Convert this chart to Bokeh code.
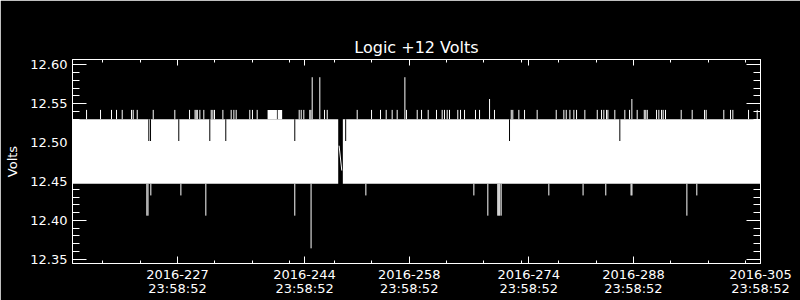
from bokeh.plotting import figure
from bokeh.models import FixedTicker, LinearAxis, PrintfTickFormatter, Range1d
from bokeh.embed import file_html
from bokeh.resources import INLINE

TITLE = "Logic +12 Volts"
Y_LABEL = "Volts"

# x axis: day of year 2016
x_ticks = [227, 244, 258, 274, 288, 305]
x_tick_labels = ["2016-227\n23:58:52", "2016-244\n23:58:52", "2016-258\n23:58:52",
                 "2016-274\n23:58:52", "2016-288\n23:58:52", "2016-305\n23:58:52"]
x_minor_ticks = [217, 222, 232, 237, 242, 248, 253, 263, 268, 273, 278, 283, 293, 298, 303]
y_ticks = [12.35, 12.40, 12.45, 12.50, 12.55, 12.60]
y_minor_ticks = [12.36, 12.37, 12.38, 12.39, 12.41, 12.42, 12.43, 12.44, 12.46, 12.47,
                 12.48, 12.49, 12.51, 12.52, 12.53, 12.54, 12.56, 12.57, 12.58, 12.59]

# dense oscillation envelope (min / max of the signal)
band_start = [212.95, 249.12]
band_end = [248.50, 305.0]
band_low = [12.447, 12.447]
band_high = [12.530, 12.530]

# stretches where the upper envelope sits higher
block_start = [239.05, 240.40]
block_end = [240.30, 241.00]
block_high = [12.542, 12.542]

# connecting line across the data gap
gap_days = [248.62, 248.98]
gap_volts = [12.496, 12.464]

# upward excursions
up_days = [214.83, 216.70, 218.17, 218.84, 219.60, 220.85, 221.07, 221.61, 223.75, 226.64,
           228.61, 229.35, 229.50, 229.65, 229.99, 230.52, 231.51, 231.73, 231.95, 233.07,
           234.18, 234.54, 234.85, 236.67, 237.03, 237.66, 243.28, 243.55, 243.90, 244.70,
           244.85, 245.02, 246.04, 246.67, 247.03, 251.04, 252.96, 254.16, 254.92, 255.72,
           256.39, 257.42, 257.64, 259.07, 259.65, 260.54, 261.65, 262.41, 262.72, 263.08,
           263.39, 264.50, 264.86, 265.40, 266.87, 267.41, 268.75, 269.41, 271.65, 271.86,
           272.67, 273.43, 275.12, 277.67, 278.69, 279.01, 279.50, 280.03, 280.39, 281.50,
           283.16, 283.73, 284.04, 284.40, 284.58, 285.51, 286.85, 287.48, 287.79, 288.50,
           289.45, 289.65, 289.85, 291.09, 291.40, 291.76, 291.98, 292.29, 294.39, 295.86,
           297.51, 297.73, 300.09, 300.99, 301.30, 303.40, 304.56]
up_volts = [
    12.542, 12.542, 12.542, 12.542, 12.542, 12.542, 12.542, 12.542, 12.542, 12.542,
    12.542, 12.542, 12.542, 12.542, 12.542, 12.542, 12.542, 12.542, 12.542, 12.542,
    12.542, 12.542, 12.542, 12.542, 12.542, 12.542, 12.542, 12.542, 12.542, 12.542,
    12.542, 12.584, 12.584, 12.542, 12.542, 12.542, 12.542, 12.542, 12.542, 12.542,
    12.542, 12.584, 12.542, 12.542, 12.542, 12.542, 12.542, 12.542, 12.542, 12.542,
    12.542, 12.542, 12.542, 12.542, 12.542, 12.542, 12.556, 12.542, 12.542, 12.542,
    12.542, 12.542, 12.542, 12.542, 12.542, 12.542, 12.542, 12.542, 12.542, 12.542,
    12.542, 12.542, 12.542, 12.542, 12.542, 12.542, 12.542, 12.542, 12.556, 12.542,
    12.542, 12.542, 12.542, 12.542, 12.542, 12.542, 12.542, 12.542, 12.542, 12.542,
    12.542, 12.542, 12.542, 12.542, 12.542, 12.542, 12.542]

# downward excursions
down_days = [222.90, 223.05, 223.43, 227.45, 230.79, 242.69, 244.87, 252.20, 266.65, 268.52,
             269.85, 269.98, 270.11, 270.30, 276.68, 281.26, 284.30, 287.68, 287.80, 295.15,
             296.48]
down_volts = [12.406, 12.406, 12.432, 12.432, 12.406, 12.406, 12.364, 12.432, 12.432, 12.406,
              12.406, 12.406, 12.406, 12.406, 12.432, 12.432, 12.432, 12.432, 12.432, 12.406,
              12.432]

# short moments where the upper envelope drops
dip_days = [223.16, 223.39, 227.17, 231.32, 233.46, 242.69, 249.50, 271.42, 286.18]
dip_volts = [12.502, 12.502, 12.502, 12.502, 12.502, 12.502, 12.502, 12.502, 12.502]

FONT = "DejaVu Sans"
WHITE = "white"

p = figure(width=800, height=300, output_backend="svg", toolbar_location=None,
           x_range=Range1d(212.95, 305.0), y_range=Range1d(12.3445, 12.6068),
           min_border_left=72, min_border_right=40, min_border_top=59, min_border_bottom=37,
           background_fill_color="black", border_fill_color="black",
           outline_line_color=WHITE, title=TITLE)
p.grid.visible = False

p.title.text_color = WHITE
p.title.text_font = FONT
p.title.text_font_size = "16px"
p.title.text_font_style = "normal"
p.title.align = "center"
p.title.standoff = 5

p.quad(left=band_start, right=band_end, bottom=band_low, top=band_high,
       fill_color=WHITE, line_color=None)
p.quad(left=block_start, right=block_end, bottom=[12.530] * len(block_start), top=block_high,
       fill_color=WHITE, line_color=None)
p.segment(x0=up_days, y0=[12.530] * len(up_days), x1=up_days, y1=up_volts,
          line_color=WHITE, line_width=1)
p.segment(x0=down_days, y0=[12.447] * len(down_days), x1=down_days, y1=down_volts,
          line_color=WHITE, line_width=1)
p.segment(x0=dip_days, y0=[12.530] * len(dip_days), x1=dip_days, y1=dip_volts,
          line_color="black", line_width=1)
p.line(gap_days, gap_volts, line_color=WHITE, line_width=1)

overrides = {t: lab for t, lab in zip(x_ticks, x_tick_labels)}


def style_axis(ax, major_in, minor_in):
    ax.axis_line_color = WHITE
    ax.major_tick_line_color = WHITE
    ax.minor_tick_line_color = WHITE
    ax.major_tick_in = major_in
    ax.major_tick_out = 0
    ax.minor_tick_in = minor_in
    ax.minor_tick_out = 0
    ax.major_label_text_color = WHITE
    ax.major_label_text_font = FONT
    ax.major_label_text_font_size = "13px"
    ax.axis_label_text_color = WHITE
    ax.axis_label_text_font = FONT
    ax.axis_label_text_font_size = "13px"
    ax.axis_label_text_font_style = "normal"


xb = p.xaxis[0]
xb.ticker = FixedTicker(ticks=x_ticks, minor_ticks=x_minor_ticks)
xb.major_label_overrides = overrides
xb.major_label_standoff = 3
style_axis(xb, 7, 3)
xb.major_label_text_line_height = 0.95

yl = p.yaxis[0]
yl.ticker = FixedTicker(ticks=y_ticks, minor_ticks=y_minor_ticks)
yl.formatter = PrintfTickFormatter(format="%.2f")
yl.axis_label = Y_LABEL
yl.major_label_standoff = 5
yl.axis_label_standoff = 7
style_axis(yl, 14, 7)

# mirrored tick-only axes (no labels)
xt = LinearAxis(ticker=FixedTicker(ticks=x_ticks, minor_ticks=x_minor_ticks))
style_axis(xt, 6, 3)
xt.major_label_text_color = None
xt.major_label_overrides = {t: "" for t in x_ticks}
p.add_layout(xt, "above")

yr = LinearAxis(ticker=FixedTicker(ticks=y_ticks, minor_ticks=y_minor_ticks))
style_axis(yr, 14, 7)
yr.major_label_text_color = None
yr.major_label_overrides = {t: "" for t in y_ticks}
p.add_layout(yr, "right")

open("out.html", "w").write(file_html(p, INLINE))
